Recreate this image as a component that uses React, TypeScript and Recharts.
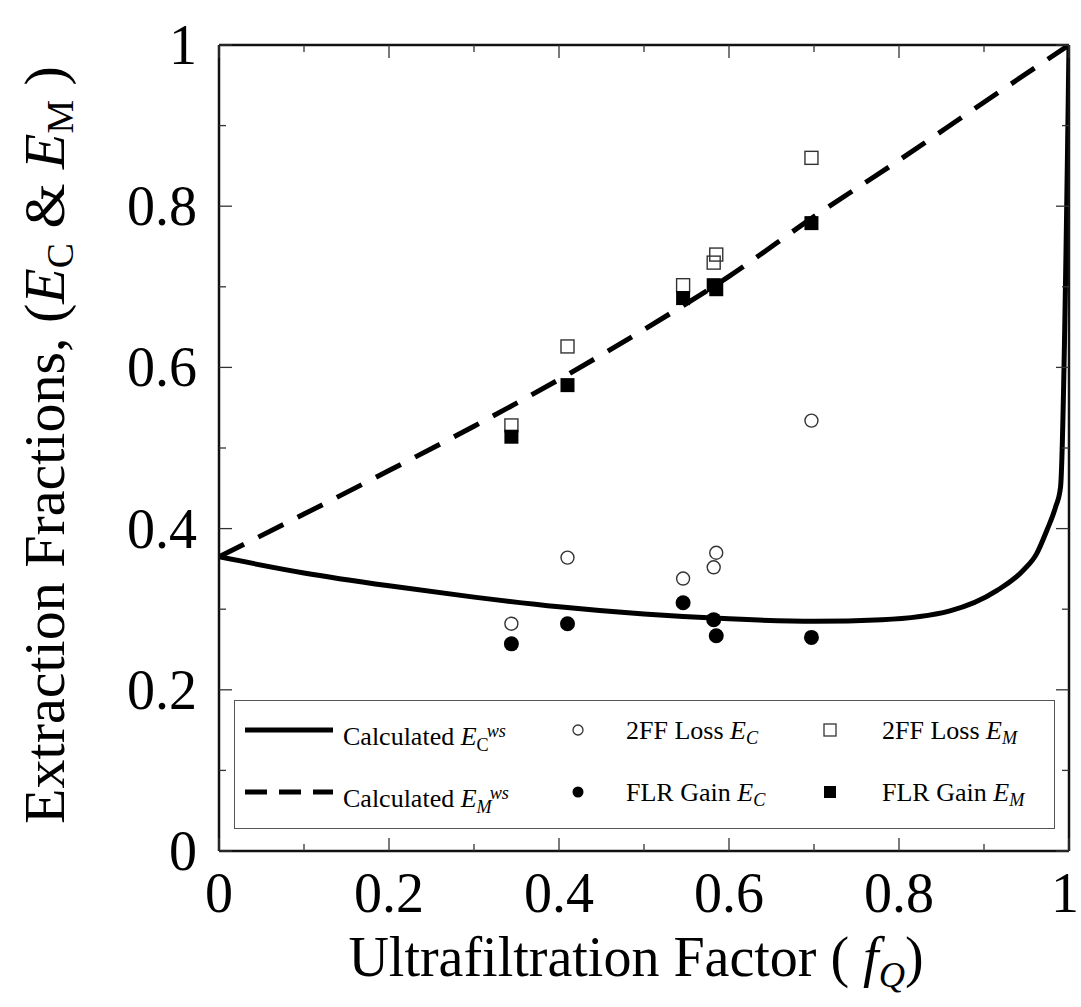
import React from 'react'
import {
  ComposedChart,
  Line,
  Scatter,
  XAxis,
  YAxis,
  Legend
} from 'recharts'

// calculated curves (well-stirred model)
const calcFqC = [0, 0.1, 0.2, 0.3, 0.4, 0.5, 0.6, 0.7, 0.78, 0.86, 0.915, 0.946, 0.962, 0.974, 0.984, 0.99, 1]
const calcEC = [0.365, 0.345, 0.329, 0.315, 0.303, 0.294, 0.288, 0.285, 0.287, 0.298, 0.323, 0.348, 0.369, 0.398, 0.426, 0.451, 1]
const calcFqM = [0, 0.1, 0.2, 0.3, 0.4, 0.5, 0.6, 0.7, 0.8, 0.9, 1]
const calcEM = [0.365, 0.418, 0.472, 0.527, 0.585, 0.647, 0.713, 0.787, 0.857, 0.929, 1]

// measurements
const measFq = [0.344, 0.41, 0.546, 0.582, 0.585, 0.697]
const lossEC = [0.282, 0.364, 0.338, 0.352, 0.37, 0.534]
const gainEC = [0.257, 0.282, 0.308, 0.287, 0.267, 0.265]
const lossEM = [0.528, 0.626, 0.702, 0.73, 0.74, 0.86]
const gainEM = [0.514, 0.578, 0.686, 0.702, 0.697, 0.779]

const axisTicks = [0, 0.1, 0.2, 0.3, 0.4, 0.5, 0.6, 0.7, 0.8, 0.9, 1]

const FONT = '"Liberation Serif", "Times New Roman", serif'

const toPts = (xs: number[], ys: number[]) => xs.map((x, i) => ({ x, y: ys[i] }))

const isMajor = (v: number) => Math.round(v * 10) % 2 === 0
const fmt = (v: number) => (v === 0 ? '0' : v === 1 ? '1' : v.toFixed(1))

const TICK = '#333'

const BottomTick = ({ x, y, payload }: any) => {
  const major = isMajor(payload.value)
  // last label sits at the very edge of the page, nudge it in a little
  const lx = payload.value === 1 ? x - 4 : x
  return (
    <g>
      <line x1={x} x2={x} y1={y} y2={y - (major ? 13 : 7)} stroke={TICK} strokeWidth={1.3} />
      {major && (
        <text x={lx} y={y + 42} textAnchor="middle" dominantBaseline="central" fontFamily={FONT} fontSize={56} fill="#000">
          {fmt(payload.value)}
        </text>
      )}
    </g>
  )
}

const TopTick = ({ x, y, payload }: any) => {
  const major = isMajor(payload.value)
  return <line x1={x} x2={x} y1={y} y2={y + (major ? 13 : 7)} stroke={TICK} strokeWidth={1.3} />
}

const LeftTick = ({ x, y, payload }: any) => {
  const major = isMajor(payload.value)
  return (
    <g>
      <line x1={x} x2={x + (major ? 13 : 7)} y1={y} y2={y} stroke={TICK} strokeWidth={1.3} />
      {major && (
        <text x={x - 22} y={y} textAnchor="end" dominantBaseline="central" fontFamily={FONT} fontSize={56} fill="#000">
          {fmt(payload.value)}
        </text>
      )}
    </g>
  )
}

const RightTick = ({ x, y, payload }: any) => {
  const major = isMajor(payload.value)
  return <line x1={x} x2={x - (major ? 13 : 7)} y1={y} y2={y} stroke={TICK} strokeWidth={1.3} />
}

const openCircle = (p: any) => <circle cx={p.cx} cy={p.cy} r={6.5} fill="none" stroke="#333" strokeWidth={1.4} />
const filledCircle = (p: any) => <circle cx={p.cx} cy={p.cy} r={7.5} fill="#000" />
const openSquare = (p: any) => <rect x={p.cx - 6.5} y={p.cy - 6.5} width={13} height={13} fill="none" stroke="#333" strokeWidth={1.4} />
const filledSquare = (p: any) => <rect x={p.cx - 7} y={p.cy - 7} width={14} height={14} fill="#000" />

const sub = { fontSize: '0.7em', verticalAlign: '-0.3em' } as const
const sup = { fontSize: '0.7em', verticalAlign: '0.45em' } as const

function LegendBox() {
  const txt = (left: number, top: number, node: React.ReactNode) => (
    <div style={{ position: 'absolute', left, top: top - 18, height: 36, lineHeight: '36px', whiteSpace: 'nowrap' }}>{node}</div>
  )
  const row1 = 30
  const row2 = 92
  return (
    <div
      style={{
        position: 'relative',
        width: 821,
        height: 129,
        boxSizing: 'border-box',
        border: '1px solid #555',
        background: '#fff',
        fontFamily: FONT,
        fontSize: 26,
        color: '#000'
      }}
    >
      <svg width={821} height={129} style={{ position: 'absolute', left: -1, top: -1 }}>
        <line x1={11} x2={99} y1={row1} y2={row1} stroke="#000" strokeWidth={5} />
        <line x1={11} x2={99} y1={row2} y2={row2} stroke="#000" strokeWidth={5} strokeDasharray="22 12" />
        <circle cx={344} cy={row1} r={5} fill="none" stroke="#333" strokeWidth={1.3} />
        <circle cx={344} cy={row2} r={5.5} fill="#000" />
        <rect x={590} y={row1 - 6} width={12} height={12} fill="none" stroke="#333" strokeWidth={1.3} />
        <rect x={590} y={row2 - 6} width={12} height={12} fill="#000" />
      </svg>
      {txt(108, row1, <>Calculated <i>E</i><span style={sub}>C</span><span style={{ ...sup, marginLeft: -2 }}><i>ws</i></span></>)}
      {txt(108, row2, <>Calculated <i>E</i><span style={sub}><i>M</i></span><span style={{ ...sup, marginLeft: -2 }}><i>ws</i></span></>)}
      {txt(391, row1, <>2FF Loss <i>E</i><span style={sub}><i>C</i></span></>)}
      {txt(391, row2, <>FLR Gain <i>E</i><span style={sub}><i>C</i></span></>)}
      {txt(647, row1, <>2FF Loss <i>E</i><span style={sub}><i>M</i></span></>)}
      {txt(647, row2, <>FLR Gain <i>E</i><span style={sub}><i>M</i></span></>)}
    </div>
  )
}

const axisLineStyle = { stroke: '#111', strokeWidth: 2.5 }

export default function App() {
  const ecLine = toPts(calcFqC, calcEC)
  const emLine = toPts(calcFqM, calcEM)

  return (
    <div style={{ position: 'absolute', left: 0, top: 0, width: 1081, height: 1007, background: '#fff' }}>
      <ComposedChart width={1081} height={1007} margin={{ top: 44, right: 11, bottom: 155, left: 218 }}>
        <XAxis
          dataKey="x"
          type="number"
          domain={[0, 1]}
          ticks={axisTicks}
          interval={0}
          height={1}
          tickSize={0}
          tickMargin={0}
          tick={<BottomTick />}
          axisLine={axisLineStyle}
          allowDataOverflow
        />
        <XAxis
          xAxisId="top"
          orientation="top"
          dataKey="x"
          type="number"
          domain={[0, 1]}
          ticks={axisTicks}
          interval={0}
          height={1}
          tickSize={0}
          tickMargin={0}
          tick={<TopTick />}
          axisLine={axisLineStyle}
          allowDataOverflow
        />
        <YAxis
          dataKey="y"
          type="number"
          domain={[0, 1]}
          ticks={axisTicks}
          interval={0}
          width={1}
          tickSize={0}
          tickMargin={0}
          tick={<LeftTick />}
          axisLine={axisLineStyle}
          allowDataOverflow
        />
        <YAxis
          yAxisId="right"
          orientation="right"
          dataKey="y"
          type="number"
          domain={[0, 1]}
          ticks={axisTicks}
          interval={0}
          width={1}
          tickSize={0}
          tickMargin={0}
          tick={<RightTick />}
          axisLine={axisLineStyle}
          allowDataOverflow
        />

        <Line
          data={emLine}
          dataKey="y"
          type="monotone"
          stroke="#000"
          strokeWidth={5}
          strokeDasharray="28 16"
          dot={false}
          activeDot={false}
          isAnimationActive={false}
        />
        <Line
          data={ecLine}
          dataKey="y"
          type="monotone"
          stroke="#000"
          strokeWidth={5}
          dot={false}
          activeDot={false}
          isAnimationActive={false}
        />

        <Scatter data={toPts(measFq, lossEC)} shape={openCircle} isAnimationActive={false} />
        <Scatter data={toPts(measFq, lossEM)} shape={openSquare} isAnimationActive={false} />
        <Scatter data={toPts(measFq, gainEC)} shape={filledCircle} isAnimationActive={false} />
        <Scatter data={toPts(measFq, gainEM)} shape={filledSquare} isAnimationActive={false} />

        <Legend
          layout="horizontal"
          verticalAlign="middle"
          align="center"
          content={() => <LegendBox />}
          wrapperStyle={{ left: 234, top: 700, width: 821, height: 129 }}
        />
      </ComposedChart>

      <div
        style={{
          position: 'absolute',
          left: 45 - 420,
          top: 445 - 40,
          width: 840,
          height: 80,
          lineHeight: '80px',
          textAlign: 'center',
          transform: 'rotate(-90deg)',
          fontFamily: FONT,
          fontSize: 58,
          whiteSpace: 'nowrap',
          pointerEvents: 'none'
        }}
      >
        Extraction Fractions, (<i>E</i><span style={{ fontSize: '0.65em', verticalAlign: '-0.25em' }}>C</span> &amp; <i>E</i>
        <span style={{ fontSize: '0.65em', verticalAlign: '-0.25em' }}>M</span> )
      </div>

      <div
        style={{
          position: 'absolute',
          left: 636 - 400,
          top: 957 - 40,
          width: 800,
          height: 80,
          lineHeight: '80px',
          textAlign: 'center',
          fontFamily: FONT,
          fontSize: 56,
          whiteSpace: 'nowrap',
          pointerEvents: 'none'
        }}
      >
        Ultrafiltration Factor ( <i>f</i><span style={{ fontSize: '0.65em', verticalAlign: '-0.3em' }}><i>Q</i></span>)
      </div>
    </div>
  )
}
